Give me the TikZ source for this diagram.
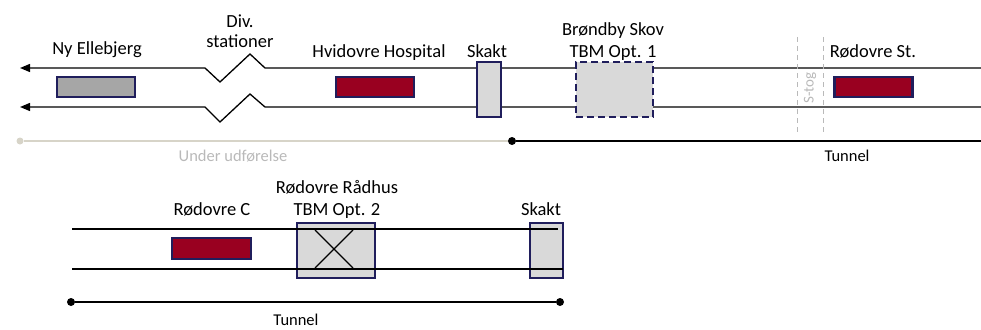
\documentclass[tikz,border=0pt]{standalone}
\usepackage{fontspec}
\setmainfont{Carlito}
\usetikzlibrary{arrows.meta}
\definecolor{navy}{RGB}{32,30,92}
\definecolor{stred}{RGB}{153,0,32}
\definecolor{midgray}{RGB}{166,166,166}
\definecolor{lightgray}{RGB}{217,217,217}
\definecolor{beige}{RGB}{215,212,200}
\definecolor{fadetext}{RGB}{185,185,185}
\definecolor{stoggray}{RGB}{185,185,185}
\tikzset{
  box/.style={draw=navy, line width=2.6pt, rectangle, inner sep=0pt},
  station/.style={box, fill=stred, minimum width=78pt, minimum height=20pt},
  oldstation/.style={box, fill=midgray, minimum width=78pt, minimum height=20pt},
  shaft/.style={box, fill=lightgray},
  lbl/.style={font=\fontsize{18.5}{21}\selectfont, anchor=base, inner sep=0pt, align=center},
  smalllbl/.style={font=\fontsize{16.5}{19}\selectfont, anchor=base, inner sep=0pt},
  track/.style={line width=1.3pt, black},
  trackarrow/.style={track, -{Triangle[length=10pt,width=8pt]}},
  dot/.style={circle, fill, inner sep=0pt, minimum size=8pt},
}
\begin{document}
\begin{tikzpicture}[x=1pt,y=-1pt]
\useasboundingbox (0,0) rectangle (981,329);
% ---------- top section ----------
\coordinate (uR) at (981,68);
\coordinate (uL) at (20,68);
\coordinate (lR) at (981,107);
\coordinate (lL) at (20,107);
\draw[trackarrow] (uR) -- (265,68) -- (250,54) -- (220,82) -- (205,68) -- (uL);
\draw[trackarrow] (lR) -- (265,107) -- (250,94) -- (220,122) -- (205,107) -- (lL);

% S-tog boundaries
\coordinate (s1t) at (797,37); \coordinate (s1b) at (797,132);
\coordinate (s2t) at (823,37); \coordinate (s2b) at (823,132);
\draw[stoggray, line width=1pt, dash pattern=on 5pt off 4pt] (s1t) -- (s1b);
\draw[stoggray, line width=1pt, dash pattern=on 5pt off 4pt] (s2t) -- (s2b);
\node[font=\fontsize{15}{17}\selectfont, text=stoggray, rotate=90, inner sep=0pt] (stog) at (810,88) {S-tog};

\node[oldstation] (nyE) at (96,87) {};
\node[station] (hvH) at (375,87) {};
\node[shaft, minimum width=24pt, minimum height=55pt] (skakt1) at (489,89.5) {};
\node[shaft, minimum width=77pt, minimum height=55pt, dash pattern=on 7pt off 4pt] (brond) at (614.5,89.5) {};
\node[station] (rodSt) at (873.5,87) {};

\node[lbl] (lnyE) at (97,54) {Ny Ellebjerg};
\node[lbl] (ldiv1) at (240,28) {Div.};
\node[lbl] (ldiv2) at (240,48) {stationer};
\node[lbl] (lhvH) at (379,57) {Hvidovre Hospital};
\node[lbl] (lsk1) at (487,57) {Skakt};
\node[lbl] (lbr1) at (613,36) {Brøndby Skov};
\node[lbl] (lbr2) at (613,57) {TBM Opt. 1};
\node[lbl] (lrodSt) at (873,57) {Rødovre St.};

% status line
\node[dot, fill=beige, minimum size=7pt] (uS) at (20,141) {};
\node[dot] (tS) at (512,141) {};
\coordinate (tE) at (981,141);
\draw[beige, line width=1.2pt] (uS) -- (tS);
\draw[black, line width=1.5pt] (tS) -- (tE);
\node[smalllbl, text=fadetext] (lunder) at (233,161) {Under udførelse};
\node[smalllbl] (ltun1) at (847,161) {Tunnel};

% ---------- bottom section ----------
\node[station, minimum width=79pt, minimum height=21pt] (rodC) at (211.5,248.5) {};
\node[shaft, minimum width=78pt, minimum height=55pt] (radhus) at (336,250.5) {};
\node[shaft, minimum width=33pt, minimum height=55pt] (skakt2) at (546.5,250.5) {};

\coordinate (buL) at (72,229); \coordinate (buR) at (558,229);
\coordinate (blL) at (72,269); \coordinate (blR) at (563,269);
\draw[track] (buL) -- (buR);
\draw[track] (blL) -- (blR);
\draw[line width=1.2pt] (315,230) -- (353,268) (353,230) -- (315,268);

\node[lbl] (lrodC) at (212,215) {Rødovre C};
\node[lbl] (lrad1) at (337,193) {Rødovre Rådhus};
\node[lbl] (lrad2) at (337,215) {TBM Opt. 2};
\node[lbl] (lsk2) at (541,215) {Skakt};

\node[dot] (t2S) at (71,302) {};
\node[dot] (t2E) at (560,302) {};
\draw[black, line width=1.5pt] (t2S) -- (t2E);
\node[smalllbl] (ltun2) at (296,325.5) {Tunnel};
\end{tikzpicture}
\end{document}
